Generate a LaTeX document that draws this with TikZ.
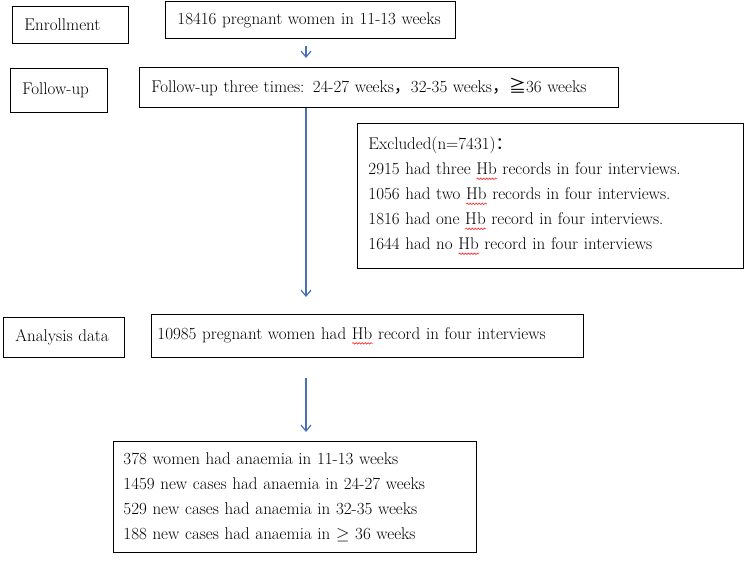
\documentclass[tikz,border=0pt]{standalone}
\usepackage{amsmath,amssymb}
\usepackage{xcolor}
\usepackage{fontspec}
\newfontfamily\cjkfont{Noto Sans CJK SC}
\usepackage{tikz}
\usetikzlibrary{arrows.meta,calc,decorations.pathmorphing}

\definecolor{arrowblue}{RGB}{74,112,186}
\newcommand\spellwave[1]{\setbox0\hbox{#1}\rlap{\tikz[baseline=0pt]\draw[red, line width=0.5pt, decorate, decoration={snake, amplitude=0.8pt, segment length=3pt}] (0pt,-4pt) -- (\the\wd0,-4pt);}\box0\relax}

\begin{document}
\begin{tikzpicture}[
    x=1pt, y=-1pt,
    box/.style={draw, rectangle, line width=0.9pt, anchor=north west, align=left, inner xsep=12pt, inner ysep=0pt, font=\fontsize{17}{25}\selectfont},
    arr/.style={-{Straight Barb[length=6pt,width=10pt]}, line width=1.2pt, draw=arrowblue}
]
    \useasboundingbox (0,0) rectangle (750,566);

    % Stage labels
    \node[box, minimum width=116pt, minimum height=37pt, text width=92pt] (enroll) at (12,6) {Enrollment};
    \node[box, minimum width=97pt, minimum height=44pt, text width=73pt] (fulabel) at (10,68) {Follow-up};
    \node[box, minimum width=121pt, minimum height=40pt, text width=97pt] (datalabel) at (3,317) {Analysis data};

    % Enrollment
    \node[box, minimum width=290pt, minimum height=37pt, text width=266pt] (total) at (165,1) {18416 pregnant women in 11-13 weeks};

    % Follow-up
    \node[box, minimum width=479pt, minimum height=40pt, text width=455pt] (followup) at (139,67) {Follow-up three times: 24-27 weeks{\cjkfont ，}32-35 weeks{\cjkfont ，}{\cjkfont ≧}36 weeks};

    % Excluded
    \node[box, inner xsep=11pt, minimum width=386pt, minimum height=145pt, text width=364pt] (excluded) at (357,123) {Excluded(n=7431){\cjkfont ：}\\
        2915 had three \spellwave{Hb} records in four interviews.\\
        1056 had two \spellwave{Hb} records in four interviews.\\
        1816 had one \spellwave{Hb} record in four interviews.\\
        1644 had no \spellwave{Hb} record in four interviews};

    % Analysis data
    \node[box, inner xsep=6pt, minimum width=432pt, minimum height=43pt, text width=420pt] (data) at (151,314) {10985 pregnant women had \spellwave{Hb} record in four interviews};

    % Anaemia results
    \node[box, inner xsep=10pt, minimum width=363pt, minimum height=111pt, text width=343pt] (result) at (113,441) {378 women had anaemia in 11-13 weeks\\
        1459 new cases had anaemia in 24-27 weeks\\
        529 new cases had anaemia in 32-35 weeks\\
        188 new cases had anaemia in $\geq$ 36 weeks};

    % Arrows
    \coordinate (spine) at (306,0);
    \draw[arr, shorten <=7pt, shorten >=9pt] (total.south -| spine) -- (followup.north -| spine);
    \draw[arr, shorten >=17pt] (followup.south -| spine) -- (data.north -| spine);
    \draw[arr, shorten <=20pt, shorten >=9pt] (data.south -| spine) -- (result.north -| spine);
\end{tikzpicture}
\end{document}
